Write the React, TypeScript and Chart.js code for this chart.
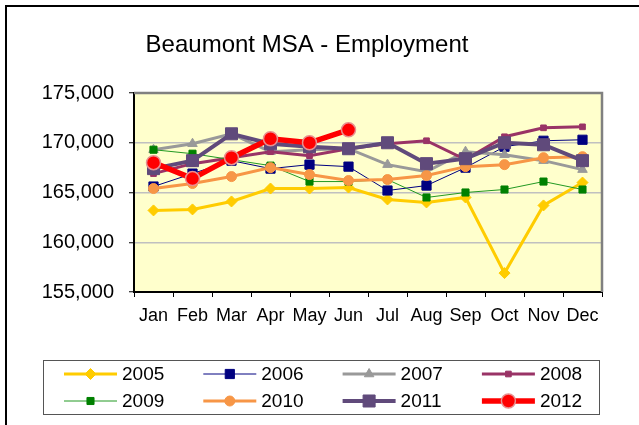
import React, { useEffect, useRef } from "react";
import { Chart, registerables } from "chart.js";

Chart.register(...registerables);

const months = ["Jan", "Feb", "Mar", "Apr", "May", "Jun", "Jul", "Aug", "Sep", "Oct", "Nov", "Dec"];
const yTicks = [155000, 160000, 165000, 170000, 175000];

const y2005 = [163200, 163300, 164100, 165400, 165400, 165500, 164300, 164000, 164500, 156900, 163700, 166000];
const y2006 = [165600, 166900, 168200, 167400, 167800, 167600, 165200, 165700, 167500, 169600, 170200, 170300];
const y2007 = [169300, 169900, 170900, 169100, 169300, 169400, 167800, 167100, 169100, 168800, 168200, 167300];
const y2008 = [166900, 167900, 168500, 169100, 168700, 169400, 169900, 170200, 168300, 170600, 171500, 171600];
const y2009 = [169300, 168900, 168300, 167700, 166100, 166100, 166300, 164500, 165000, 165300, 166100, 165300];
const y2010 = [165400, 165900, 166600, 167500, 166800, 166200, 166300, 166700, 167600, 167800, 168500, 168600];
const y2011 = [167400, 168200, 170900, 169900, 169600, 169400, 170000, 167900, 168400, 170000, 169800, 168200];
const y2012 = [168000, 166400, 168500, 170400, 170000, 171300];

const FONT = "Arial, 'Liberation Sans', sans-serif";

type Series = {
  label: string;
  data: number[];
  color: string;
  lineColor: string;
  width: number;
  style: string;
  radius: number;
  pBorder: string;
  pBorderW: number;
};

const series: Series[] = [
  { label: "2005", data: y2005, color: "#FFCC00", lineColor: "#FFCC00", width: 3, style: "rectRot", radius: 5.5, pBorder: "#FFCC00", pBorderW: 1 },
  { label: "2006", data: y2006, color: "#000080", lineColor: "#000080", width: 1, style: "rect", radius: 6.5, pBorder: "#000080", pBorderW: 1 },
  { label: "2007", data: y2007, color: "#999999", lineColor: "#999999", width: 3, style: "triangle", radius: 5.5, pBorder: "#999999", pBorderW: 1 },
  { label: "2008", data: y2008, color: "#993366", lineColor: "#993366", width: 3, style: "rect", radius: 4, pBorder: "#993366", pBorderW: 1 },
  { label: "2009", data: y2009, color: "#008000", lineColor: "#229922", width: 1, style: "rect", radius: 5, pBorder: "#008000", pBorderW: 1 },
  { label: "2010", data: y2010, color: "#F79646", lineColor: "#F79646", width: 3, style: "circle", radius: 5, pBorder: "#F79646", pBorderW: 1 },
  { label: "2011", data: y2011, color: "#604A7B", lineColor: "#604A7B", width: 4, style: "rect", radius: 8.5, pBorder: "#604A7B", pBorderW: 1 },
  { label: "2012", data: y2012, color: "#FF0000", lineColor: "#FF0000", width: 5.5, style: "circle", radius: 7, pBorder: "#E89090", pBorderW: 1.5 },
];

function drawMarker(ctx: CanvasRenderingContext2D, s: Series, x: number, y: number) {
  const r = s.radius;
  ctx.save();
  ctx.fillStyle = s.color;
  ctx.strokeStyle = s.pBorder;
  ctx.lineWidth = s.pBorderW;
  ctx.beginPath();
  if (s.style === "circle") {
    ctx.arc(x, y, r, 0, Math.PI * 2);
  } else if (s.style === "rect") {
    const h = r * Math.SQRT1_2;
    ctx.rect(x - h, y - h, 2 * h, 2 * h);
  } else if (s.style === "rectRot") {
    ctx.moveTo(x, y - r);
    ctx.lineTo(x + r, y);
    ctx.lineTo(x, y + r);
    ctx.lineTo(x - r, y);
    ctx.closePath();
  } else if (s.style === "triangle") {
    ctx.moveTo(x, y - r);
    ctx.lineTo(x + r * 0.866, y + r * 0.5);
    ctx.lineTo(x - r * 0.866, y + r * 0.5);
    ctx.closePath();
  }
  ctx.fill();
  ctx.stroke();
  ctx.restore();
}

const decorPlugin = {
  id: "decor",
  beforeDraw(chart: any) {
    const { ctx, chartArea } = chart;
    ctx.save();
    ctx.fillStyle = "#FFFFFF";
    ctx.fillRect(0, 0, chart.width, chart.height);
    ctx.fillStyle = "#FFFFCC";
    ctx.fillRect(chartArea.left, chartArea.top, chartArea.right - chartArea.left, chartArea.bottom - chartArea.top);
    // outer frame
    ctx.strokeStyle = "#000000";
    ctx.lineWidth = 2;
    ctx.beginPath();
    ctx.moveTo(6, chart.height + 2);
    ctx.lineTo(6, 6);
    ctx.lineTo(chart.width + 2, 6);
    ctx.stroke();
    ctx.restore();
  },
  beforeDatasetsDraw(chart: any) {
    const { ctx, chartArea } = chart;
    ctx.save();
    ctx.strokeStyle = "#808080";
    ctx.lineWidth = 2.5;
    ctx.beginPath();
    ctx.moveTo(chartArea.left, chartArea.top);
    ctx.lineTo(chartArea.right, chartArea.top);
    ctx.lineTo(chartArea.right, chartArea.bottom);
    ctx.stroke();
    ctx.restore();
  },
  afterDraw(chart: any) {
    const { ctx } = chart;
    ctx.save();
    // title
    ctx.fillStyle = "#000000";
    ctx.font = `24px ${FONT}`;
    ctx.textAlign = "center";
    ctx.textBaseline = "middle";
    ctx.fillText("Beaumont MSA - Employment", 307, 45);
    // legend box
    ctx.strokeStyle = "#555555";
    ctx.lineWidth = 1;
    ctx.strokeRect(43.5, 360.5, 556, 54);
    ctx.font = `19px ${FONT}`;
    ctx.textAlign = "left";
    series.forEach((s, i) => {
      const col = i % 4;
      const row = Math.floor(i / 4);
      const x0 = 64 + col * 139.3;
      const y = row === 0 ? 374 : 401;
      ctx.strokeStyle = s.lineColor;
      ctx.lineWidth = s.width;
      ctx.beginPath();
      ctx.moveTo(x0, y);
      ctx.lineTo(x0 + 53, y);
      ctx.stroke();
      drawMarker(ctx, s, x0 + 26.5, y);
      ctx.fillStyle = "#000000";
      ctx.fillText(s.label, x0 + 58, y + 1);
    });
    ctx.restore();
  },
};

export default function App() {
  const ref = useRef<HTMLCanvasElement | null>(null);
  useEffect(() => {
    if (!ref.current) return;
    const chart = new Chart(ref.current, {
      type: "line",
      data: {
        labels: months,
        datasets: series.map((s, i) => ({
          label: s.label,
          data: s.data,
          borderColor: s.lineColor,
          backgroundColor: s.color,
          borderWidth: s.width,
          pointStyle: s.style as any,
          pointRadius: s.radius,
          pointHoverRadius: s.radius,
          pointBackgroundColor: s.color,
          pointBorderColor: s.pBorder,
          pointBorderWidth: s.pBorderW,
          tension: 0,
          fill: false,
          order: 8 - i,
        })),
      },
      plugins: [decorPlugin],
      options: {
        responsive: false,
        animation: false,
        events: [],
        layout: { padding: { left: 0, right: 37, top: 93, bottom: 0 } },
        plugins: {
          legend: { display: false },
          title: { display: false },
          tooltip: { enabled: false },
        },
        scales: {
          x: {
            type: "category",
            offset: true,
            grid: {
              offset: true,
              drawOnChartArea: false,
              drawTicks: true,
              tickLength: 5,
              tickColor: "#000000",
              tickWidth: 1,
            },
            border: { color: "#000000", width: 2 },
            ticks: {
              color: "#000000",
              font: { family: FONT, size: 18 },
              padding: 8,
              maxRotation: 0,
              autoSkip: false,
            },
            afterFit(scale: any) {
              scale.height = 133;
            },
          },
          y: {
            min: 155000,
            max: 175000,
            afterBuildTicks(scale: any) {
              scale.ticks = yTicks.map((v) => ({ value: v }));
            },
            grid: {
              color: "#C0C0C0",
              lineWidth: 1.5,
              tickColor: "#000000",
              tickLength: 5,
              tickWidth: 1,
            },
            border: { color: "#000000", width: 2 },
            ticks: {
              color: "#000000",
              font: { family: FONT, size: 20 },
              padding: 15,
              callback: (v: any) => Number(v).toLocaleString("en-US"),
            },
            afterFit(scale: any) {
              scale.width = 134;
            },
          },
        },
      },
    });
    return () => chart.destroy();
  }, []);
  return (
    <div style={{ position: "absolute", left: 0, top: 0, width: 639, height: 425 }}>
      <canvas ref={ref} width={639} height={425} style={{ width: 639, height: 425, display: "block" }} />
    </div>
  );
}
